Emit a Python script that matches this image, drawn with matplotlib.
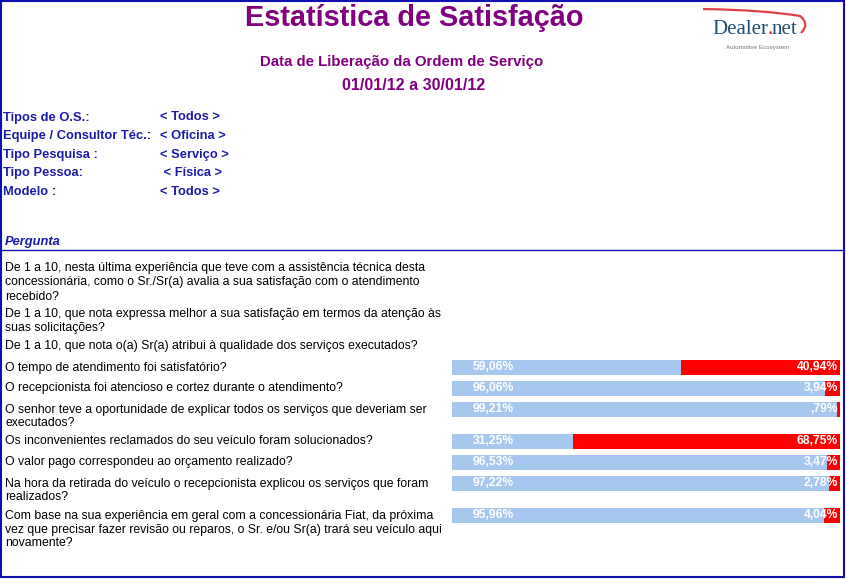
import matplotlib
matplotlib.use("Agg")
import matplotlib.pyplot as plt
from matplotlib.patches import Rectangle, PathPatch
from matplotlib.path import Path

# ---- data -----------------------------------------------------------------
questions = [
    ["De 1 a 10, nesta última experiência que teve com a assistência técnica desta",
     "concessionária, como o Sr./Sr(a) avalia a sua satisfação com o atendimento",
     "recebido?"],
    ["De 1 a 10, que nota expressa melhor a sua satisfação em termos da atenção às",
     "suas solicitações?"],
    ["De 1 a 10, que nota o(a) Sr(a) atribui à qualidade dos serviços executados?"],
    ["O tempo de atendimento foi satisfatório?"],
    ["O recepcionista foi atencioso e cortez durante o atendimento?"],
    ["O senhor teve a oportunidade de explicar todos os serviços que deveriam ser",
     "executados?"],
    ["Os inconvenientes reclamados do seu veículo foram solucionados?"],
    ["O valor pago correspondeu ao orçamento realizado?"],
    ["Na hora da retirada do veículo o recepcionista explicou os serviços que foram",
     "realizados?"],
    ["Com base na sua experiência em geral com a concessionária Fiat, da próxima",
     "vez que precisar fazer revisão ou reparos, o Sr. e/ou Sr(a) trará seu veículo aqui",
     "novamente?"],
]
satisfeito = [None, None, None, 59.06, 96.06, 99.21, 31.25, 96.53, 97.22, 95.96]
insatisfeito = [None, None, None, 40.94, 3.94, 0.79, 68.75, 3.47, 2.78, 4.04]

filter_labels = ["Tipos de O.S.:", "Equipe / Consultor Téc.:", "Tipo Pesquisa :",
                 "Tipo Pessoa:", "Modelo :"]
filter_values = ["< Todos >", "< Oficina >", "< Serviço >", " < Física >", "< Todos >"]

title = "Estatística de Satisfação"
subtitle = "Data de Liberação da Ordem de Serviço"
period = "01/01/12 a 30/01/12"

# ---- style ----------------------------------------------------------------
W, H = 846, 579
PURPLE = "#800080"
NAVY = "#1c1caa"
BORDER = "#1010b0"
LIGHT_BLUE = "#a7c8ee"
RED = "#ff0000"
SANS = "Liberation Sans"


def fmt(v):
    s = f"{v:.2f}".replace(".", ",")
    if v < 1:
        s = s[1:]
    return s + "%"


fig = plt.figure(figsize=(W / 100, H / 100), dpi=100)
ax = fig.add_axes([0, 0, 1, 1])
ax.set_xlim(0, W)
ax.set_ylim(H, 0)
ax.axis("off")

# frame
ax.add_patch(Rectangle((0.8, 0.8), W - 2.6, H - 2.4, fill=False, edgecolor=BORDER, lw=1.5))

# header
ax.text(414, 17.5, title, color=PURPLE, fontsize=20.8, fontweight="bold", family=SANS,
        ha="center", va="center")
ax.text(402, 62, subtitle, color=PURPLE, fontsize=10.8, fontweight="bold", family=SANS,
        ha="center", va="center")
ax.text(414, 85, period, color=PURPLE, fontsize=11.5, fontweight="bold", family=SANS,
        ha="center", va="center")

# logo
swoosh = Path([(703, 9), (765, 10), (800, 16), (810, 24), (801, 33)],
              [Path.MOVETO, Path.CURVE3, Path.CURVE3, Path.CURVE3, Path.CURVE3])
ax.add_patch(PathPatch(swoosh, fill=False, edgecolor="#d8202a", lw=1.6, alpha=0.85))
ax.text(768.5, 29, "Dealer", color="#1f4e73", fontsize=15, family="Liberation Serif",
        ha="right", va="center")
ax.text(767.5, 29, ".", color="#d8202a", fontsize=15, family="Liberation Serif",
        ha="left", va="center")
ax.text(772, 29, "net", color="#1f4e73", fontsize=15, family="Liberation Serif",
        ha="left", va="center")
ax.text(758, 47, "Automotive Ecosystem", color="#6a7a88", fontsize=4.5, family=SANS,
        ha="center", va="center")

# filters
for i, (lab, val) in enumerate(zip(filter_labels, filter_values)):
    y = 117.5 + i * 18.6
    ax.text(3, y, lab, color=NAVY, fontsize=9.3, fontweight="bold", family=SANS, va="center")
    ax.text(160, y, val, color=NAVY, fontsize=9.3, fontweight="bold", family=SANS, va="center")

# question header
ax.text(5, 242.5, "Pergunta", color=NAVY, fontsize=9.3, fontweight="bold", style="italic",
        family=SANS, va="center")
ax.plot([1, W - 2], [249.5, 249.5], color=BORDER, lw=1.0)

# bar axes: percent scale horizontally, pixel rows vertically
bx = fig.add_axes([452 / W, 0, 388 / W, 1])
bx.set_xlim(0, 100)
bx.set_ylim(H, 0)
bx.axis("off")
bx.patch.set_alpha(0)

LINE = 14
y = 268
for lines, sat, ins in zip(questions, satisfeito, insatisfeito):
    for j, line in enumerate(lines):
        ax.text(5, y + j * LINE + 0.5, line, color="black", fontsize=8.85, family=SANS,
                va="center")
    if sat is not None:
        yc = y + 0.3
        bx.barh(yc, sat, height=15, color=LIGHT_BLUE)
        bx.barh(yc, ins, left=sat, height=15, color=RED)
        bx.text(5.3, yc, fmt(sat), color="white", fontsize=8.7, fontweight="bold",
                family=SANS, ha="left", va="center")
        bx.text(99.5, yc, fmt(ins), color="white", fontsize=8.7, fontweight="bold",
                family=SANS, ha="right", va="center")
    last = y + (len(lines) - 1) * LINE
    y = last + (21 if len(lines) == 1 else 18)

fig.savefig("out.png", dpi=100)
